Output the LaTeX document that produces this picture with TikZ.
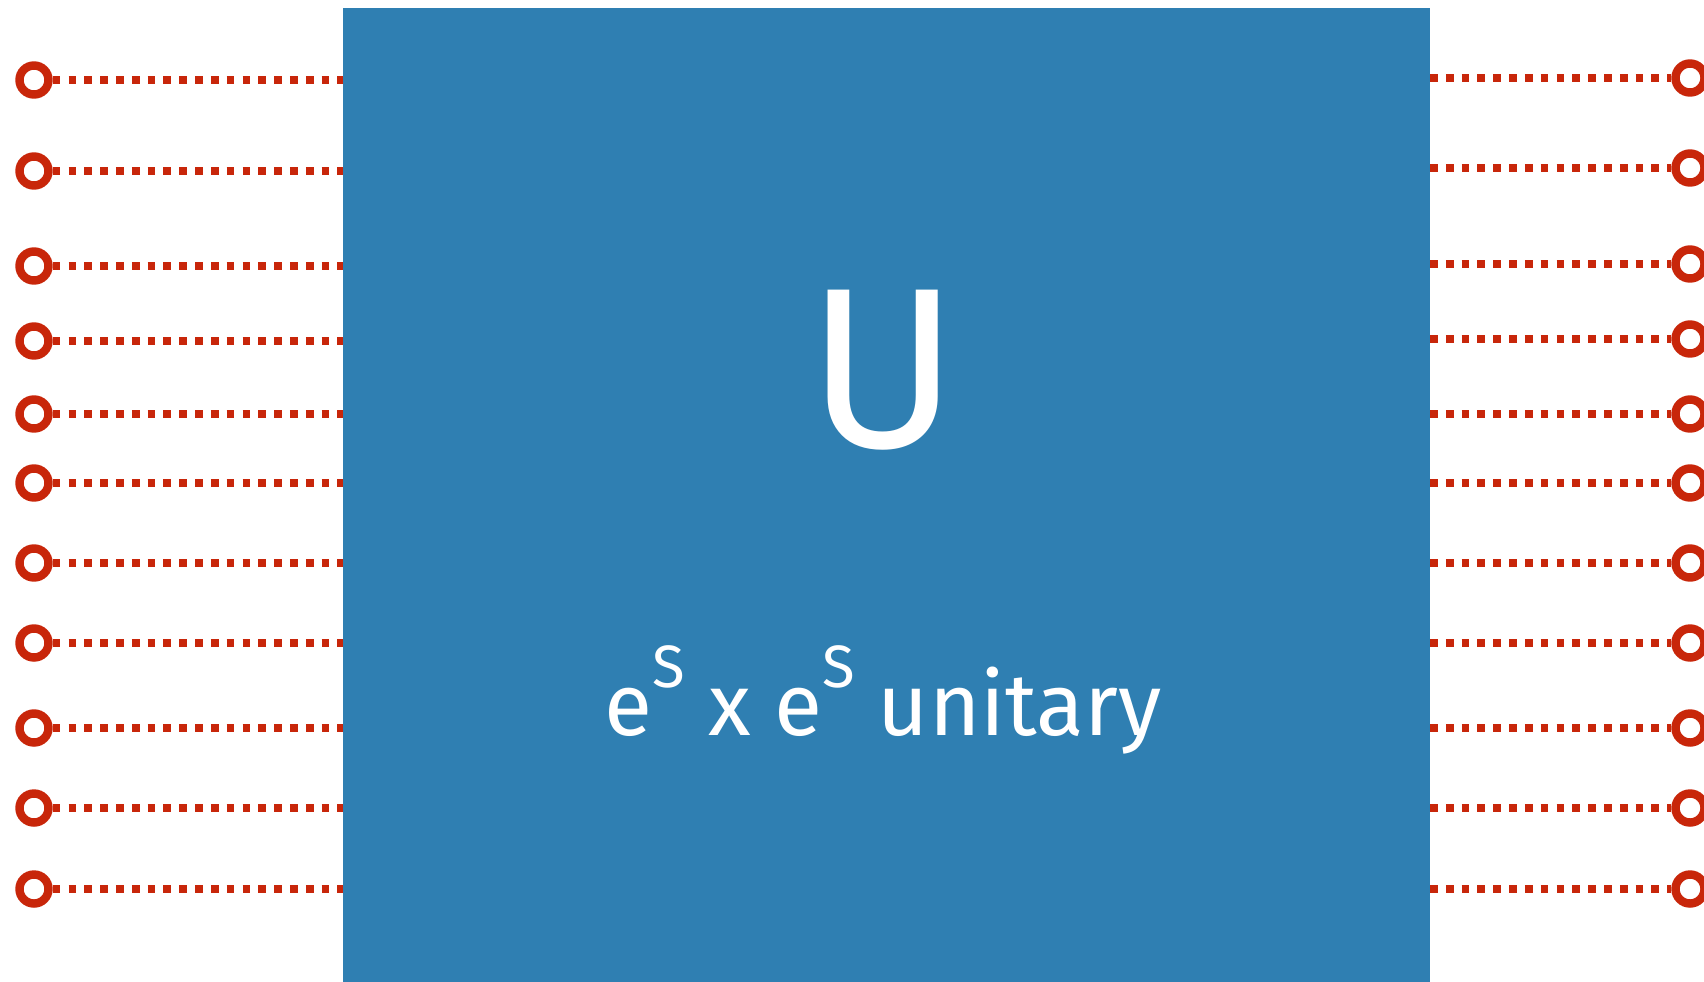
\documentclass[tikz,border=0pt]{standalone}
\usepackage{fontspec}
\setmainfont{Fira Sans}
\usepackage{tikz}
\usetikzlibrary{positioning}
\usepackage{xcolor}
\definecolor{boxblue}{RGB}{47,127,178}
\definecolor{wirered}{RGB}{200,38,10}

\tikzset{
  port/.style={circle, draw=wirered, line width=4.8pt, fill=white, minimum size=5.8mm, inner sep=0pt},
  wire/.style={wirered, line width=4.4pt, dash pattern=on 4.4pt off 4.6pt},
}

\begin{document}
\begin{tikzpicture}[x=0.2mm,y=-0.2mm]
  \useasboundingbox (0,0) rectangle (1704,981);
  % the unitary block
  \node[fill=boxblue, minimum width=217.4mm, minimum height=196.4mm, inner sep=0pt, outer sep=0pt] (unit) at (886.5,499) {};
  \node[text=white, font=\fontsize{130}{130}\selectfont] (ulabel) at (883,370) {U};
  \node[text=white, font=\fontsize{50}{52}\selectfont] (caption) at (883,700) {e\raisebox{0.55em}{\fontsize{34}{34}\selectfont S} x e\raisebox{0.55em}{\fontsize{34}{34}\selectfont S} unitary};
  % wires in and out
  \foreach \i/\yl/\yr in {1/80/78, 2/171/168, 3/266/264, 4/341/339, 5/414/414, 6/483/483,
                          7/563/563, 8/643/643, 9/728/728, 10/808/808, 11/889/889} {
    \node[port] (l\i) at (34,\yl) {};
    \node[port] (r\i) at (1690,\yr) {};
    \draw[wire] (l\i.east) -- (unit.west |- l\i);
    \draw[wire] (unit.east |- r\i) -- (r\i.west);
  }
\end{tikzpicture}
\end{document}
